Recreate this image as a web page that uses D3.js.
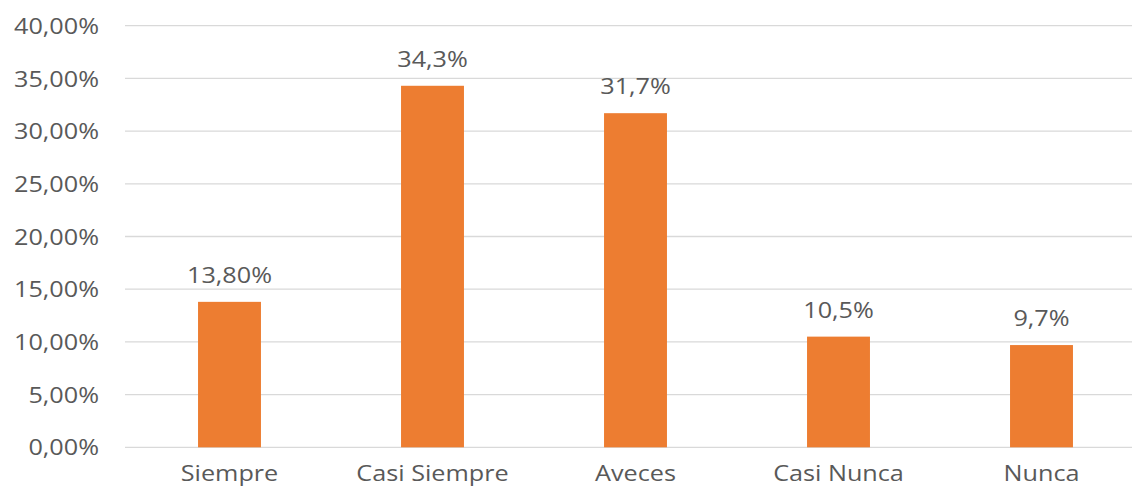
<!DOCTYPE html>
<html>
<head>
<meta charset="utf-8">
<script src="https://cdn.jsdelivr.net/npm/d3@7"></script>
<style>
  html, body { margin: 0; padding: 0; background: #fff; }
  svg { display: block; }
  text { font-family: "Open Sans", sans-serif; fill: #595959; }
</style>
</head>
<body>
<svg id="chart" width="1132" height="488"></svg>
<script>
const categories = ["Siempre", "Casi Siempre", "Aveces", "Casi Nunca", "Nunca"];
const values = [13.8, 34.3, 31.7, 10.5, 9.7];
const valueLabels = ["13,80%", "34,3%", "31,7%", "10,5%", "9,7%"];
const yTicks = [0, 5, 10, 15, 20, 25, 30, 35, 40];
const yTickLabels = ["0,00%", "5,00%", "10,00%", "15,00%", "20,00%", "25,00%", "30,00%", "35,00%", "40,00%"];

const svg = d3.select("#chart");
const W = 1132, H = 488;
const fontSize = 21, stretch = 1.2;

const x = d3.scaleBand()
  .domain(categories)
  .range([128, 1143])
  .paddingInner(0.69)
  .paddingOuter(0.345);

const y = d3.scaleLinear().domain([0, 40]).range([447.3, 25.7]);

// gridlines
svg.append("g").selectAll("line")
  .data(yTicks)
  .join("line")
  .attr("x1", 125).attr("x2", W)
  .attr("y1", d => y(d)).attr("y2", d => y(d))
  .attr("stroke", "#d9d9d9").attr("stroke-width", 1.3);

// y tick labels
svg.append("g").selectAll("g")
  .data(yTicks)
  .join("g")
  .attr("transform", d => `translate(99,${y(d)}) scale(${stretch},1)`)
  .append("text")
  .attr("text-anchor", "end")
  .attr("dominant-baseline", "central")
  .attr("font-size", fontSize)
  .text((d, i) => yTickLabels[i]);

// bars
svg.append("g").selectAll("rect")
  .data(values)
  .join("rect")
  .attr("x", (d, i) => x(categories[i]))
  .attr("width", x.bandwidth())
  .attr("y", d => y(d))
  .attr("height", d => y(0) - y(d))
  .attr("fill", "#ED7D31");

// value labels
svg.append("g").selectAll("g")
  .data(values)
  .join("g")
  .attr("transform", (d, i) => `translate(${x(categories[i]) + x.bandwidth() / 2},${y(d) - 19}) scale(${stretch},1)`)
  .append("text")
  .attr("text-anchor", "middle")
  .attr("font-size", fontSize)
  .text((d, i) => valueLabels[i]);

// category labels
svg.append("g").selectAll("g")
  .data(categories)
  .join("g")
  .attr("transform", d => `translate(${x(d) + x.bandwidth() / 2},${y(0) + 34}) scale(${stretch},1)`)
  .append("text")
  .attr("text-anchor", "middle")
  .attr("font-size", fontSize)
  .text(d => d);
</script>
</body>
</html>
